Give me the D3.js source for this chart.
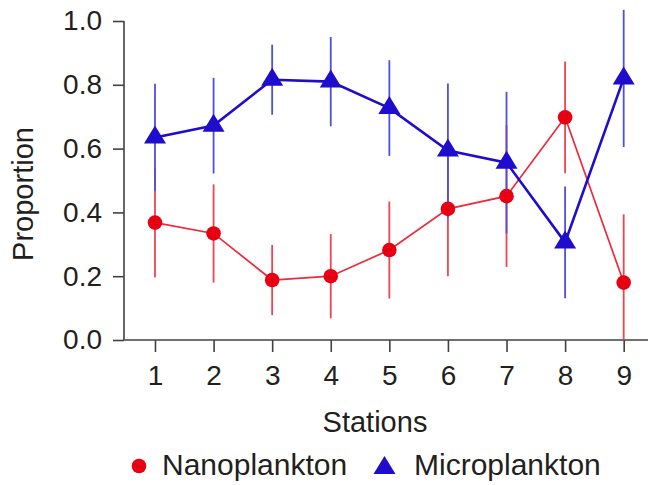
<!DOCTYPE html>
<html>
<head>
<meta charset="utf-8">
<script src="https://cdn.jsdelivr.net/npm/d3@7"></script>
<style>
  html, body { margin: 0; padding: 0; background: #fff; }
  svg { display: block; font-family: "Liberation Sans", Arial, sans-serif; }
</style>
</head>
<body>
<svg id="chart" width="648" height="485"></svg>
<script>
// ---- data ----
const stations = [1, 2, 3, 4, 5, 6, 7, 8, 9];
const nanoMean = [0.368, 0.334, 0.188, 0.200, 0.282, 0.411, 0.451, 0.698, 0.180];
const nanoErr  = [0.171, 0.154, 0.110, 0.132, 0.152, 0.211, 0.222, 0.175, 0.214];
const microMean = [0.635, 0.672, 0.816, 0.810, 0.727, 0.594, 0.556, 0.306, 0.820];
const microErr  = [0.168, 0.150, 0.110, 0.140, 0.150, 0.210, 0.222, 0.175, 0.215];
const yTicks = [0, 0.2, 0.4, 0.6, 0.8, 1.0];
const seriesNames = ["Nanoplankton", "Microplankton"];
const xTitle = "Stations";
const yTitle = "Proportion";

// ---- layout ----
const svg = d3.select("#chart");
const x = d3.scaleLinear().domain([0.471, 9.415]).range([124, 648]);
const y = d3.scaleLinear().domain([0, 1]).range([340, 21]);

const axisColor = "#454040";
const textColor = "#231f20";
const red = "#e60012", redLine = "#ee2a3a", redErr = "#f04452";
const blue = "#1e0dcc", blueLine = "#1e0dcc", blueErr = "#4f4fe2";

// axes
const yAxis = d3.axisLeft(y).tickValues(yTicks).tickFormat(d3.format(".1f"))
  .tickSize(11).tickSizeOuter(0).tickPadding(11);
const xAxis = d3.axisBottom(x).tickValues(stations).tickFormat(d3.format("d"))
  .tickSize(12).tickSizeOuter(0).tickPadding(13);

const gy = svg.append("g").attr("transform", "translate(124,0)").call(yAxis);
const gx = svg.append("g").attr("transform", "translate(0,340)").call(xAxis);
[gx, gy].forEach(g => {
  g.select(".domain").attr("stroke", axisColor).attr("stroke-width", 1.6);
  g.selectAll(".tick line").attr("stroke", axisColor).attr("stroke-width", 1.6);
  g.selectAll(".tick text").attr("fill", textColor).attr("font-size", 28)
    .attr("font-family", "Liberation Sans, Arial, sans-serif");
});
gy.select(".domain").attr("d", `M0,${y(1)}V${y(0)}`);
gx.select(".domain").attr("d", `M124,0H648`);

// titles
svg.append("text").attr("x", 375).attr("y", 432).attr("text-anchor", "middle")
  .attr("font-size", 29).attr("fill", textColor).text(xTitle);
svg.append("text").attr("transform", "translate(33,194) rotate(-90)")
  .attr("text-anchor", "middle").attr("font-size", 29).attr("fill", textColor).text(yTitle);

const nano = stations.map((s, i) => ({s, v: nanoMean[i], e: nanoErr[i]}));
const micro = stations.map((s, i) => ({s, v: microMean[i], e: microErr[i]}));

function errBars(data, color) {
  svg.append("g").selectAll("line").data(data).join("line")
    .attr("x1", d => x(d.s)).attr("x2", d => x(d.s))
    .attr("y1", d => y(Math.max(0, d.v - d.e))).attr("y2", d => y(d.v + d.e))
    .attr("stroke", color).attr("stroke-width", 1.8);
}
errBars(nano, redErr);
errBars(micro, blueErr);

const line = d3.line().x(d => x(d.s)).y(d => y(d.v));
svg.append("path").datum(nano).attr("d", line).attr("fill", "none")
  .attr("stroke", redLine).attr("stroke-width", 1.7);
svg.append("path").datum(micro).attr("d", line).attr("fill", "none")
  .attr("stroke", blueLine).attr("stroke-width", 2.6);

const triW = 22, triH = 18;
const triPath = `M0,${-triH * 2 / 3}L${triW / 2},${triH / 3}L${-triW / 2},${triH / 3}Z`;

svg.append("g").selectAll("circle").data(nano).join("circle")
  .attr("cx", d => x(d.s)).attr("cy", d => y(d.v)).attr("r", 7.3).attr("fill", red);
svg.append("g").selectAll("path").data(micro).join("path")
  .attr("transform", d => `translate(${x(d.s)},${y(d.v)})`).attr("d", triPath).attr("fill", blue);

// legend
const lg = svg.append("g");
lg.append("circle").attr("cx", 139).attr("cy", 466).attr("r", 7.3).attr("fill", red);
lg.append("text").attr("x", 162).attr("y", 475).attr("font-size", 30).attr("fill", textColor).text(seriesNames[0]);
lg.append("path").attr("transform", "translate(384.5,468)").attr("d", triPath).attr("fill", blue);
lg.append("text").attr("x", 414).attr("y", 475).attr("font-size", 30).attr("fill", textColor).text(seriesNames[1]);
</script>
</body>
</html>
